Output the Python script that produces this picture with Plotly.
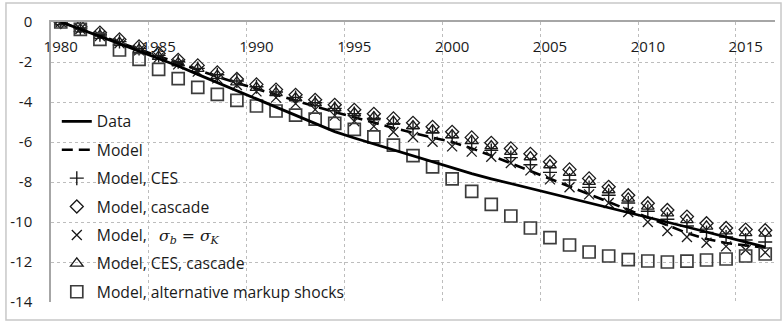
import plotly.graph_objects as go

# Cumulative change, 1980-2016
years = list(range(1980, 2017))

data = [0, -0.35, -0.72, -1.09, -1.46, -1.83, -2.2, -2.62, -3.03, -3.44,
        -3.85, -4.26, -4.67, -5.08, -5.48, -5.8, -6.1, -6.4, -6.7, -7.0,
        -7.3, -7.58, -7.84, -8.08, -8.32, -8.56, -8.79, -9.02, -9.26, -9.51,
        -9.76, -10.0, -10.25, -10.5, -10.75, -11.0, -11.25]

model = [0, -0.33, -0.68, -1.02, -1.37, -1.72, -2.05, -2.4, -2.73, -3.05,
         -3.35, -3.65, -3.93, -4.22, -4.5, -4.78, -5.03, -5.3, -5.55, -5.78,
         -6.0, -6.32, -6.68, -7.07, -7.46, -7.85, -8.24, -8.63, -9.02, -9.4,
         -9.8, -10.2, -10.55, -10.85, -11.05, -11.17, -11.28]

model_ces = [0, -0.3, -0.64, -0.98, -1.32, -1.67, -1.99, -2.32, -2.64, -2.95,
             -3.24, -3.5, -3.77, -4.04, -4.32, -4.58, -4.82, -5.08, -5.32, -5.54,
             -5.78, -6.08, -6.42, -6.78, -7.14, -7.52, -7.9, -8.27, -8.66, -9.05,
             -9.46, -9.86, -10.2, -10.52, -10.75, -10.9, -11.0]

model_cascade = [0, -0.22, -0.53, -0.87, -1.22, -1.57, -1.89, -2.17, -2.52, -2.85,
                 -3.12, -3.38, -3.64, -3.89, -4.14, -4.39, -4.59, -4.82, -5.04, -5.24,
                 -5.49, -5.77, -6.04, -6.32, -6.59, -6.99, -7.37, -7.82, -8.24, -8.66,
                 -9.06, -9.4, -9.73, -10.06, -10.3, -10.38, -10.41]

model_sigma = [0, -0.35, -0.7, -1.06, -1.42, -1.78, -2.12, -2.48, -2.82, -3.15,
               -3.47, -3.78, -4.08, -4.38, -4.68, -4.96, -5.22, -5.5, -5.75, -5.99,
               -6.22, -6.48, -6.74, -7.05, -7.42, -7.87, -8.26, -8.62, -9.05, -9.5,
               -10.0, -10.45, -10.75, -11.04, -11.22, -11.4, -11.52]

model_ces_cascade = [0, -0.36, -0.68, -1.03, -1.38, -1.73, -2.05, -2.33, -2.68, -3.01,
                     -3.28, -3.54, -3.8, -4.05, -4.3, -4.55, -4.75, -4.98, -5.2, -5.4,
                     -5.65, -5.93, -6.2, -6.48, -6.75, -7.15, -7.53, -7.98, -8.4, -8.82,
                     -9.22, -9.56, -9.89, -10.22, -10.46, -10.54, -10.57]

model_alt_markup = [0, -0.37, -0.87, -1.4, -1.87, -2.37, -2.83, -3.27, -3.62, -3.92,
                    -4.2, -4.45, -4.66, -4.86, -5.07, -5.37, -5.74, -6.16, -6.68, -7.24,
                    -7.84, -8.47, -9.12, -9.7, -10.3, -10.78, -11.15, -11.5, -11.7, -11.88,
                    -11.95, -12.0, -11.96, -11.9, -11.85, -11.7, -11.6]

x_tick_years = [1980, 1985, 1990, 1995, 2000, 2005, 2010, 2015]
y_ticks = [0, -2, -4, -6, -8, -10, -12, -14]

FONT = "Open Sans"
INK = "#1a1a1a"
GRID = "#bdbdbd"
AXIS = "#a6a6a6"
X_RANGE = [1979.5, 2016.5]

fig = go.Figure()

# the Data line is placed on the labelled year axis (x2), which shares x's range
fig.add_trace(go.Scatter(
    x=years, y=data, name="Data", mode="lines", legendgroup="a", xaxis="x2",
    line=dict(color="black", width=2.8)))
fig.add_trace(go.Scatter(
    x=years, y=model, name="Model", mode="lines", legendgroup="b",
    line=dict(color="black", width=2.6, dash="11px,6px")))

marker_series = [
    ("Model, CES", model_ces, "cross-thin-open", 10, 1.4, INK),
    ("Model, cascade", model_cascade, "diamond-open", 10, 1.3, INK),
    ("Model, &nbsp;&nbsp;<span style=\"font-family:'DejaVu Serif'\"><i>σ<sub>b</sub></i> = <i>σ<sub>K</sub></i></span>",
     model_sigma, "x-thin-open", 10, 1.3, INK),
    ("Model, CES, cascade", model_ces_cascade, "triangle-up-open", 11, 1.3, INK),
    ("Model, alternative markup shocks", model_alt_markup, "square-open", 12, 1.7, "#3c3c3c"),
]
for i, (name, vals, sym, size, lw, col) in enumerate(marker_series):
    fig.add_trace(go.Scatter(
        x=years, y=vals, name=name, mode="markers", legendgroup="m%d" % i,
        marker=dict(symbol=sym, size=size, color=col, line=dict(width=lw, color=col))))

fig.update_layout(
    width=783, height=323,
    margin=dict(l=51, r=8, t=22, b=21),
    paper_bgcolor="white", plot_bgcolor="white",
    font=dict(family=FONT, size=15, color=INK),
    showlegend=True,
    legend=dict(
        x=0.008, y=0.705, xanchor="left", yanchor="top",
        bgcolor="rgba(0,0,0,0)", traceorder="grouped", tracegroupgap=5,
        font=dict(family=FONT, size=15.7, color=INK),
        itemwidth=30),
    # axis line along y = 0 with the category-boundary grid
    xaxis=dict(
        range=X_RANGE, side="top", showticklabels=False, ticks="",
        tickmode="array", tickvals=x_tick_years,
        showgrid=False, zeroline=False,
        showline=True, linecolor=AXIS, linewidth=2,
        minor=dict(tickmode="array", tickvals=[y - 0.5 for y in x_tick_years],
                   showgrid=True, gridcolor=GRID, griddash="dot", gridwidth=1, ticks="")),
    # year labels sitting just under the y = 0 line
    xaxis2=dict(
        range=X_RANGE, matches="x", overlaying="x", anchor="free", position=0.95,
        side="bottom",
        tickmode="array", tickvals=x_tick_years, ticktext=[str(y) for y in x_tick_years],
        ticks="", showgrid=False, zeroline=False, showline=False,
        tickfont=dict(family=FONT, size=15, color=INK)),
    yaxis=dict(
        range=[-14, 0], tickmode="array", tickvals=y_ticks,
        ticktext=[str(v) for v in y_ticks],
        showgrid=True, gridcolor=GRID, griddash="dot", gridwidth=1,
        zeroline=False, showline=True, linecolor=AXIS, linewidth=1.5,
        ticks="", ticklabelstandoff=14,
        tickfont=dict(family=FONT, size=15, color=INK)),
    shapes=[dict(type="rect", xref="paper", yref="paper",
                 x0=-0.0622, x1=1.0083, y0=-0.0643, y1=1.068,
                 line=dict(color="#c8c8c8", width=1.5), fillcolor="rgba(0,0,0,0)",
                 layer="below")],
)

fig.write_html("out.html")
